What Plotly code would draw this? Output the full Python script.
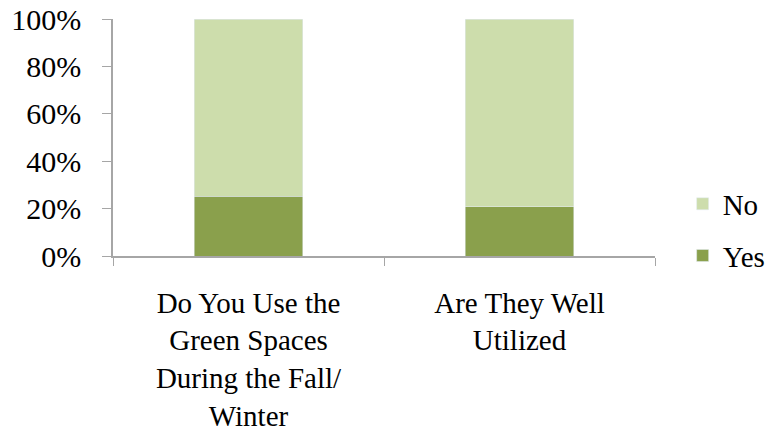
import plotly.graph_objects as go

categories = ["Do You Use the<br>Green Spaces<br>During the Fall/<br>Winter", "Are They Well<br>Utilized"]
yes_vals = [25.3, 20.8]
no_vals = [74.7, 79.2]
y_ticks = [0, 20, 40, 60, 80, 100]
y_labels = ["0%", "20%", "40%", "60%", "80%", "100%"]

fig = go.Figure()
fig.add_trace(go.Bar(x=categories, y=yes_vals, name="Yes", marker_color="rgb(138,160,76)",
                     width=0.4, legendgroup="yes", legendrank=2))
fig.add_trace(go.Bar(x=categories, y=no_vals, name="No", marker_color="rgb(205,221,172)",
                     width=0.4, legendgroup="no", legendrank=1))

fam = "Liberation Serif, Times New Roman, serif"
fig.update_layout(
    barmode="stack",
    width=772, height=434,
    margin=dict(l=113, r=117, t=19, b=178, autoexpand=False),
    paper_bgcolor="white", plot_bgcolor="white",
    font=dict(family=fam, size=30, color="black"),
    showlegend=True,
    legend=dict(traceorder="grouped", x=1.051, y=0.11, xanchor="left", yanchor="middle",
                font=dict(family=fam, size=29, color="black"), itemwidth=30,
                tracegroupgap=11),
    xaxis=dict(showline=True, linecolor="#A6A6A6", linewidth=1.5, ticks="outside",
               tickson="boundaries", ticklen=8, tickcolor="#A6A6A6", showgrid=False,
               ticklabelstandoff=20, automargin=False, tickfont=dict(family=fam, size=29)),
    yaxis=dict(range=[0, 100], tickmode="array", tickvals=y_ticks, ticktext=y_labels,
               showline=True, linecolor="#A6A6A6", linewidth=1.5, ticks="outside",
               ticklen=9, tickcolor="#A6A6A6", showgrid=False, zeroline=False,
               ticklabelstandoff=15, automargin=False, tickfont=dict(family=fam, size=30)),
)
fig.write_html("out.html", config={"displayModeBar": False},
               post_script="document.body.style.margin='0px';")
